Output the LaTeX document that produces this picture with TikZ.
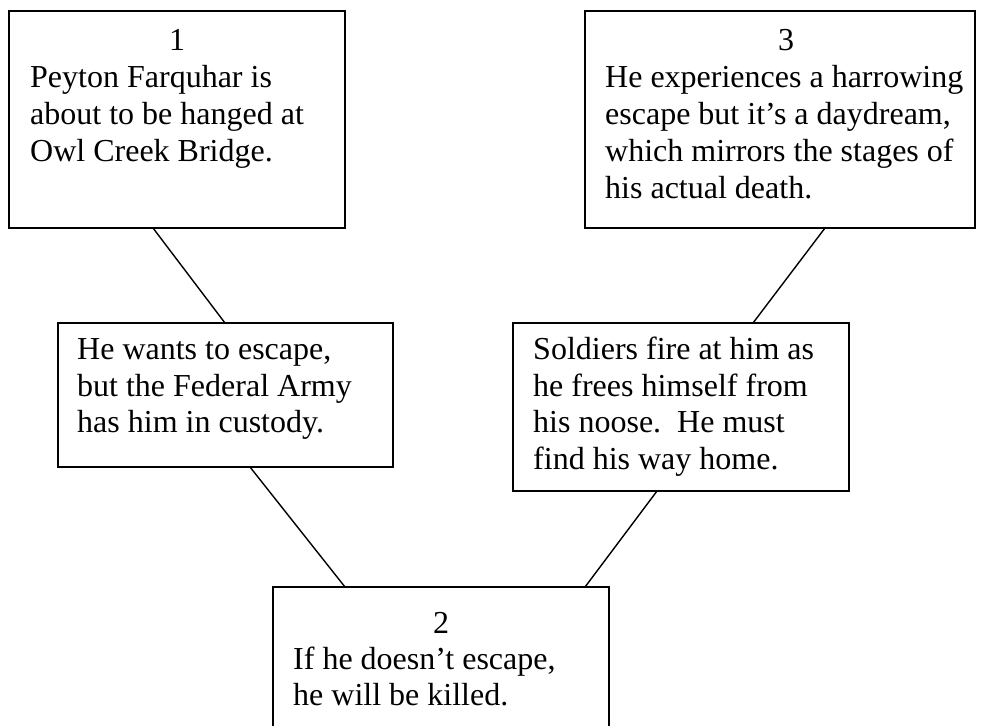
\documentclass[tikz,border=0pt]{standalone}
\usepackage{fontspec}
\setmainfont{Liberation Serif}
\usetikzlibrary{calc}
\frenchspacing
\begin{document}
\begin{tikzpicture}[x=1pt,y=-1pt,
  box/.style={draw=black, line width=1.5pt, rectangle, anchor=north west, inner sep=0pt, outer sep=0pt},
  conn/.style={draw=black, line width=1.4pt},
  txt/.style={anchor=base west, inner sep=0pt, font=\fontsize{32}{36.8}\selectfont},
  num/.style={anchor=base, inner sep=0pt, font=\fontsize{32}{36.8}\selectfont}]
\clip (0,0) rectangle (981,725);
\fill[white] (0,0) rectangle (981,725);
% boxes
\node[box, minimum width=336pt, minimum height=217pt] (b1) at (9,11) {};
\node[box, minimum width=390pt, minimum height=217pt] (b3) at (585,11) {};
\node[box, minimum width=335pt, minimum height=144pt] (ml) at (58,323) {};
\node[box, minimum width=336pt, minimum height=168pt] (mr) at (513,323) {};
\node[box, minimum width=336pt, minimum height=160pt] (b2) at (273,587) {};
% connectors
\draw[conn] ([xshift=144pt]b1.south west) -- ([xshift=167pt]ml.north west);
\draw[conn] ([xshift=192pt]ml.south west) -- ([xshift=72pt]b2.north west);
\draw[conn] ([xshift=240pt]b3.south west) -- ([xshift=240pt]mr.north west);
\draw[conn] ([xshift=144pt]mr.south west) -- ([xshift=312pt]b2.north west);
% texts box 1
\node[num] (n1) at (177,50) {1};
\node[txt] (t1a) at (30,87) {Peyton Farquhar is};
\node[txt] (t1b) at (30,124) {about to be hanged at};
\node[txt] (t1c) at (30,161) {Owl Creek Bridge.};
% texts box 3
\node[num] (n3) at (786,50) {3};
\node[txt] (t3a) at (605,87) {He experiences a harrowing};
\node[txt] (t3b) at (605,124) {escape but it’s a daydream,};
\node[txt] (t3c) at (605,161) {which mirrors the stages of};
\node[txt] (t3d) at (605,198) {his actual death.};
% texts middle left
\node[txt] (tla) at (77,359) {He wants to escape,};
\node[txt] (tlb) at (77,396) {but the Federal Army};
\node[txt] (tlc) at (77,432) {has him in custody.};
% texts middle right
\node[txt] (tra) at (533,359) {Soldiers fire at him as};
\node[txt] (trb) at (533,396) {he frees himself from};
\node[txt] (trc) at (533,432) {his noose.\ \ He must};
\node[txt] (trd) at (533,469) {find his way home.};
% texts box 2
\node[num] (n2) at (441,633) {2};
\node[txt] (t2a) at (293,669) {If he doesn’t escape,};
\node[txt] (t2b) at (293,705) {he will be killed.};
\end{tikzpicture}
\end{document}
